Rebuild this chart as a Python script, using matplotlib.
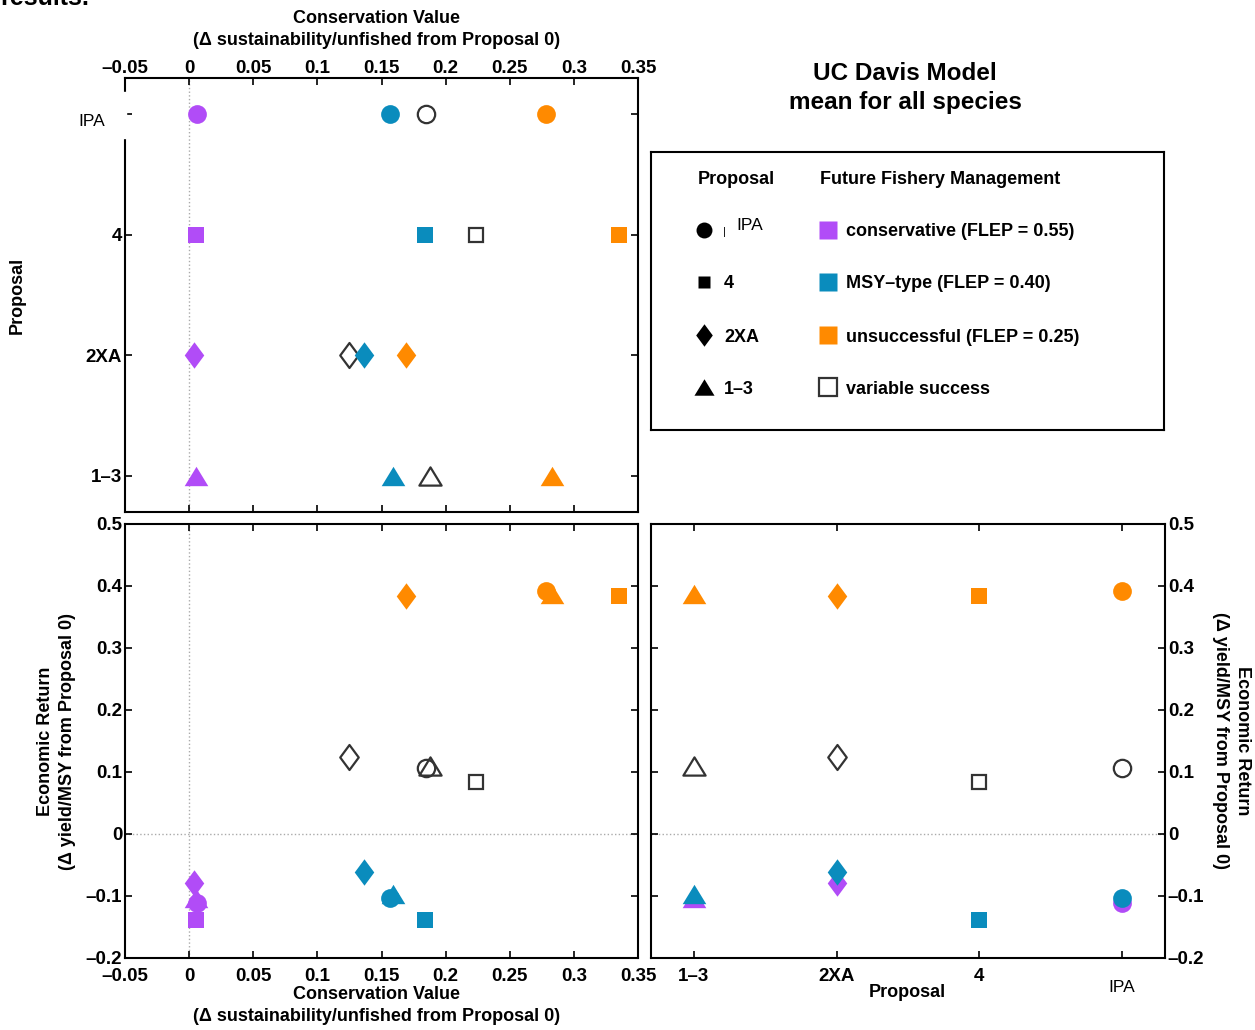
import numpy as np
import matplotlib
matplotlib.use('Agg')
import matplotlib.pyplot as plt
from matplotlib.patches import Rectangle
from matplotlib.path import Path
from matplotlib.ticker import FuncFormatter

plt.rcParams['font.family'] = ['Liberation Sans', 'DejaVu Sans']
plt.rcParams['font.weight'] = 'bold'
plt.rcParams['axes.labelweight'] = 'bold'

# datos
proposals = ['1–3', '2XA', '4', 'IPA']
proposal_pos = [1, 2, 3, 4]
management = ['conservative (FLEP = 0.55)', 'MSY–type (FLEP = 0.40)',
              'unsuccessful (FLEP = 0.25)', 'variable success']

# conservation value (orden: 1-3, 2XA, 4, IPA)
cons_conservative = [0.005, 0.004, 0.005, 0.006]
cons_msy = [0.159, 0.136, 0.184, 0.157]
cons_unsuccessful = [0.283, 0.169, 0.335, 0.278]
cons_variable = [0.188, 0.125, 0.224, 0.185]

# economic return (orden: 1-3, 2XA, 4, IPA)
econ_conservative = [-0.104, -0.079, -0.138, -0.112]
econ_msy = [-0.096, -0.061, -0.138, -0.104]
econ_unsuccessful = [0.387, 0.384, 0.384, 0.392]
econ_variable = [0.110, 0.124, 0.084, 0.106]

cons = [cons_conservative, cons_msy, cons_unsuccessful, cons_variable]
econ = [econ_conservative, econ_msy, econ_unsuccessful, econ_variable]

colores = ['#B14CF7', '#0A8CBD', '#FF8A00', 'none']
borde_abierto = '#333333'
orden = [3, 0, 1, 2]

tri = Path([(0, 0.82), (1, -0.82), (-1, -0.82), (0, 0.82)], closed=True)
diam = Path([(0, 1), (0.74, 0), (0, -1), (-0.74, 0), (0, 1)], closed=True)
marcadores = [tri, diam, 's', 'o']
tamanos = [17, 19, 11.5, 13.5]

W, H = 1255, 1030


def caja(x0, y0, x1, y1):
    return [x0 / W, 1 - y1 / H, (x1 - x0) / W, (y1 - y0) / H]


def fmt(v, pos):
    s = '%g' % round(v, 3)
    return s.replace('-', '–')


def puntos(ax, xs, ys, m, p):
    c = colores[m]
    if c == 'none':
        ax.plot(xs, ys, linestyle='none', marker=marcadores[p], ms=tamanos[p] - 1,
                mfc='none', mec=borde_abierto, mew=1.6, zorder=3)
    else:
        ax.plot(xs, ys, linestyle='none', marker=marcadores[p], ms=tamanos[p],
                mfc=c, mec='none', mew=0, zorder=3)


def estilo(ax):
    for s in ax.spines.values():
        s.set_linewidth(1.5)
    ax.tick_params(direction='in', length=5, width=1.2, labelsize=13.5,
                   top=True, right=True, bottom=True, left=True)
    ax.tick_params(axis='x', pad=7)
    ax.tick_params(axis='y', pad=2)


fig = plt.figure(figsize=(W / 100, H / 100), dpi=100)

ax1 = fig.add_axes(caja(125, 78, 638, 512))
ax2 = fig.add_axes(caja(125, 524, 638, 958))
ax3 = fig.add_axes(caja(651, 524, 1165, 958))

for m in orden:
    for p in range(4):
        puntos(ax1, cons[m][p], proposal_pos[p], m, p)
        puntos(ax2, cons[m][p], econ[m][p], m, p)
        puntos(ax3, proposal_pos[p], econ[m][p], m, p)

xt = np.arange(-0.05, 0.351, 0.05)
yt = np.arange(-0.2, 0.501, 0.1)

# panel superior
ax1.set_xlim(-0.05, 0.35)
ax1.set_ylim(0.7, 4.3)
ax1.set_xticks(xt)
ax1.xaxis.set_major_formatter(FuncFormatter(fmt))
ax1.set_yticks(proposal_pos)
ax1.set_yticklabels(proposals[:3] + [''])
ax1.axvline(0, color='#aaaaaa', ls=':', lw=1, zorder=1)
estilo(ax1)
ax1.tick_params(axis='x', labeltop=True, labelbottom=False, pad=1)
ax1.set_xlabel('Conservation Value\n(Δ sustainability/unfished from Proposal 0)',
               fontsize=13, va='center', linespacing=1.4)
ax1.xaxis.set_label_coords(0.49, 1.112)
ax1.set_ylabel('Proposal', fontsize=13, va='center')
ax1.yaxis.set_label_coords(-0.21, 0.5)

# panel inferior izquierdo
ax2.set_xlim(-0.05, 0.35)
ax2.set_ylim(-0.2, 0.5)
ax2.set_xticks(xt)
ax2.set_yticks(yt)
ax2.xaxis.set_major_formatter(FuncFormatter(fmt))
ax2.yaxis.set_major_formatter(FuncFormatter(fmt))
ax2.axvline(0, color='#aaaaaa', ls=':', lw=1, zorder=1)
ax2.axhline(0, color='#aaaaaa', ls=':', lw=1, zorder=1)
estilo(ax2)
ax2.set_xlabel('Conservation Value\n(Δ sustainability/unfished from Proposal 0)',
               fontsize=13, va='center', linespacing=1.4)
ax2.xaxis.set_label_coords(0.49, -0.11)
ax2.set_ylabel('Economic Return\n(Δ yield/MSY from Proposal 0)',
               fontsize=13, va='center', linespacing=1.4)
ax2.yaxis.set_label_coords(-0.1335, 0.5)

# panel inferior derecho
ax3.set_xlim(0.7, 4.3)
ax3.set_ylim(-0.2, 0.5)
ax3.set_xticks(proposal_pos)
ax3.set_xticklabels(proposals[:3] + [''])
ax3.set_yticks(yt)
ax3.yaxis.set_major_formatter(FuncFormatter(fmt))
ax3.axhline(0, color='#aaaaaa', ls=':', lw=1, zorder=1)
estilo(ax3)
ax3.tick_params(labelleft=False, labelright=True)
ax3.set_xlabel('Proposal', fontsize=13, va='center')
ax3.xaxis.set_label_coords(0.498, -0.0806)
ax3.yaxis.set_label_position('right')
ax3.set_ylabel('Economic Return\n(Δ yield/MSY from Proposal 0)', rotation=270,
               fontsize=13, va='center', linespacing=1.4)
ax3.yaxis.set_label_coords(1.129, 0.5)
ax3.text(proposal_pos[3], -0.067, proposals[3], transform=ax3.get_xaxis_transform(),
         ha='center', va='center', fontsize=12.5, fontweight='normal', clip_on=False)

# parche blanco y etiqueta IPA sobrepuesta
fig.patches.append(Rectangle((30 / W, 1 - 138 / H), 96.5 / W, 46 / H,
                             transform=fig.transFigure, color='white', zorder=10))
fig.text(92 / W, 1 - 122 / H, proposals[3], ha='center', va='center',
         fontsize=12.5, fontweight='normal', zorder=11)

# titulo
fig.text(905 / W, 1 - 88 / H, 'UC Davis Model\nmean for all species',
         ha='center', va='center', fontsize=17.5, linespacing=1.3)
fig.text(0.0, 1 - 5 / H, 'results.', ha='left', va='baseline', fontsize=18)

# leyenda
leg = fig.add_axes(caja(651, 152, 1164, 430))
leg.set_xlim(651, 1164)
leg.set_ylim(430, 152)
leg.set_xticks([])
leg.set_yticks([])
for s in leg.spines.values():
    s.set_linewidth(1.5)

dy = 2
leg.text(736, 178 + dy, 'Proposal', ha='center', va='center', fontsize=13)
leg.text(820, 178 + dy, 'Future Fishery Management', ha='left', va='center', fontsize=13)
filas = [230, 282, 335, 387]
orden_prop = [3, 2, 1, 0]
for i, p in enumerate(orden_prop):
    y = filas[i]
    tam = tamanos[p] * (0.85 if p != 2 else 0.8)
    leg.plot(704, y, linestyle='none', marker=marcadores[p], ms=tam, mfc='black', mec='none')
    if p == 3:
        leg.text(724, y + 2, '|', ha='center', va='center', fontsize=8, fontweight='normal')
        leg.text(736, y - 5, proposals[p], ha='left', va='center', fontsize=12.5,
                 fontweight='normal')
    else:
        leg.text(724, y + dy, proposals[p], ha='left', va='center', fontsize=13)
for m in range(4):
    y = filas[m]
    if colores[m] == 'none':
        leg.plot(828, y, linestyle='none', marker='s', ms=12.5, mfc='none',
                 mec=borde_abierto, mew=1.6)
    else:
        leg.plot(828, y, linestyle='none', marker='s', ms=13.5, mfc=colores[m], mec='none')
    leg.text(846, y + dy, management[m], ha='left', va='center', fontsize=13)

fig.savefig('out.png', dpi=100)
